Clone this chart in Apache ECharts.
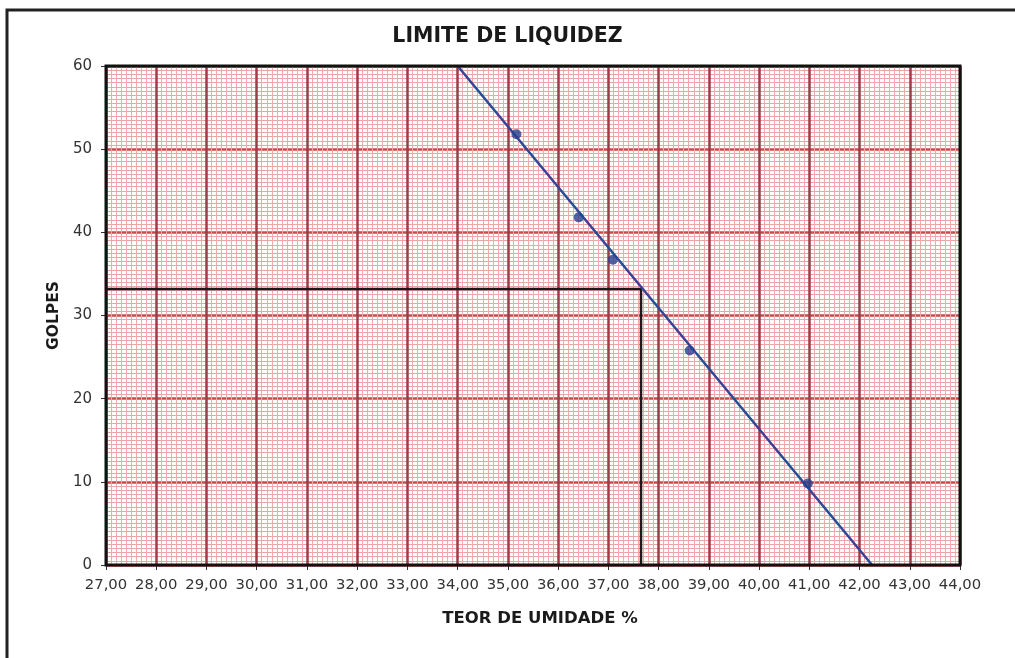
<!DOCTYPE html>
<html>
<head>
<meta charset="utf-8">
<title>Limite de Liquidez</title>
<script src="https://cdn.jsdelivr.net/npm/echarts@6/dist/echarts.min.js"></script>
<style>
  html, body { margin: 0; padding: 0; background: #fff; }
  #chart { width: 1015px; height: 658px; }
</style>
</head>
<body>
<div id="chart"></div>
<script>
// ensaio: teor de umidade (%) x numero de golpes
var umidade = [35.17, 36.41, 37.09, 38.62, 40.97];
var golpes  = [51.8, 41.8, 36.7, 25.8, 9.8];

var retaX = [34.0, 42.25];
var retaY = [60, 0];

// leitura do limite de liquidez
var llX = 37.65;
var llY = 33.2;

var xTicks = { min: 27, max: 44, step: 1 };
var yTicks = { min: 0, max: 60, step: 10 };

var FONT = 'DejaVu Sans';

var chart = echarts.init(document.getElementById('chart'));

var pontos = umidade.map(function (u, i) { return [u, golpes[i]]; });
var reta = retaX.map(function (x, i) { return [x, retaY[i]]; });
var guia = [[xTicks.min, llY], [llX, llY], [llX, yTicks.min]];

var option = {
    backgroundColor: '#ffffff',
    animation: false,
    title: {
        text: 'LIMITE DE LIQUIDEZ',
        left: 'center',
        top: 21,
        textStyle: { fontFamily: FONT, fontWeight: 'bold', fontSize: 20.5, color: '#1a1a1a' }
    },
    grid: { left: 106, right: 55, top: 66, bottom: 93 },
    xAxis: {
        type: 'value',
        min: xTicks.min,
        max: xTicks.max,
        interval: xTicks.step,
        name: 'TEOR DE UMIDADE %',
        nameLocation: 'middle',
        nameGap: 45,
        nameTextStyle: { fontFamily: FONT, fontWeight: 'bold', fontSize: 16.5, color: '#1a1a1a', padding: [0, 0, 0, 14] },
        axisLine: { show: false },
        axisTick: { show: true, length: 5, lineStyle: { color: '#333', width: 1 } },
        axisLabel: {
            fontFamily: FONT, fontSize: 14.8, color: '#333', margin: 13,
            formatter: function (v) { return v.toFixed(2).replace('.', ','); }
        },
        splitLine: { show: true, lineStyle: { color: '#9c3c48', width: 2.5 } },
        minorTick: { show: false, splitNumber: 10 },
        minorSplitLine: { show: true, lineStyle: { color: '#f1a9a9', width: 1 } }
    },
    yAxis: {
        type: 'value',
        min: yTicks.min,
        max: yTicks.max,
        interval: yTicks.step,
        name: 'GOLPES',
        nameLocation: 'middle',
        nameGap: 40,
        nameRotate: 90,
        nameTextStyle: { fontFamily: FONT, fontWeight: 'bold', fontSize: 15.5, color: '#1a1a1a' },
        axisLine: { show: false },
        axisTick: { show: true, length: 5, lineStyle: { color: '#333', width: 1 } },
        axisLabel: { fontFamily: FONT, fontSize: 15, color: '#333', margin: 14 },
        splitLine: { show: true, lineStyle: { color: '#cc4a4a', width: 2.5 } },
        minorTick: { show: false, splitNumber: 20 },
        minorSplitLine: { show: true, lineStyle: { color: '#eea3a3', width: 1 } }
    },
    graphic: [
        {
            type: 'rect',
            shape: { x: 106, y: 66, width: 854, height: 499 },
            style: { fill: null, stroke: '#111', lineWidth: 3 },
            z: 100
        },
        {
            type: 'polyline',
            shape: { points: [[7, 660], [7, 10], [1016, 10]] },
            style: { fill: null, stroke: '#222', lineWidth: 3 },
            z: 100
        }
    ],
    series: [
        {
            name: 'guia',
            type: 'line',
            data: guia,
            symbol: 'none',
            lineStyle: { color: '#1a1a1a', width: 2.5 },
            z: 3
        },
        {
            name: 'reta',
            type: 'line',
            data: reta,
            symbol: 'none',
            lineStyle: { color: '#2f4796', width: 2.5 },
            z: 4
        },
        {
            name: 'pontos',
            type: 'scatter',
            data: pontos,
            symbol: 'circle',
            symbolSize: 10,
            itemStyle: { color: '#253f8e' },
            z: 5
        }
    ]
};

chart.setOption(option);
</script>
</body>
</html>
